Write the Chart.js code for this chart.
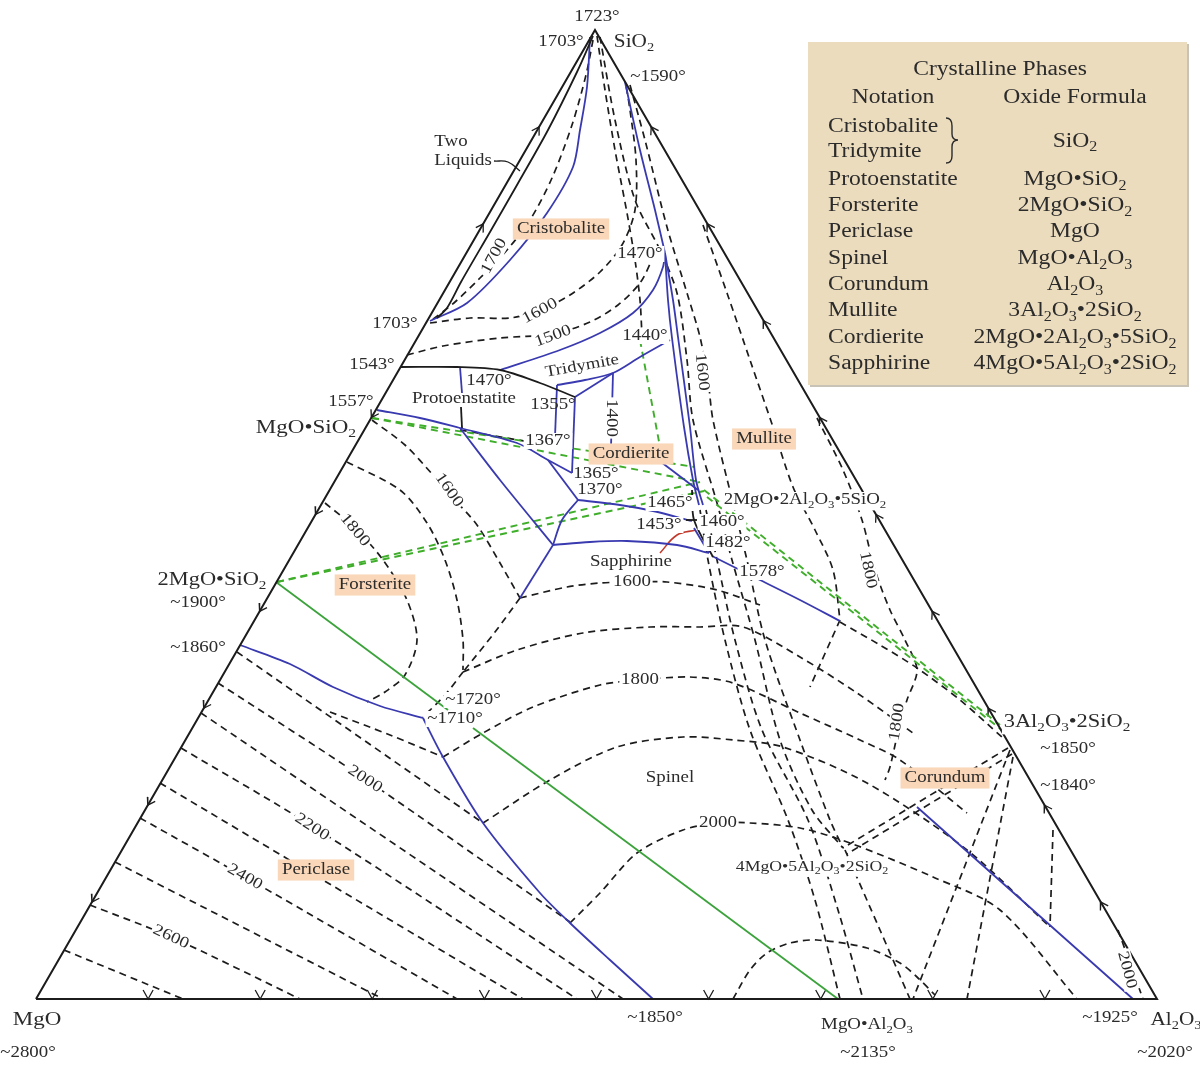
<!DOCTYPE html>
<html>
<head>
<meta charset="utf-8">
<script src="https://cdn.jsdelivr.net/npm/chart.js@4.4.1/dist/chart.umd.min.js"></script>
<style>
  html, body { margin: 0; padding: 0; background: #fff; }
  #wrap { width: 1200px; height: 1065px; position: relative; }
</style>
</head>
<body>
<div id="wrap"><canvas id="diagram"></canvas></div>
<script>
// All positions are picture pixels (x right, y down).
// corners: MgO, SiO2, Al2O3
const corners = [[36, 999], [595, 30], [1157, 999]];
const triangle = [[36, 999], [595, 30], [1157, 999], [36, 999]];

// solid black boundaries
const twoLiquids = [[593,36],[577,72],[548,130],[517,185],[490,232],[461,282],[447,308],[437,318]];
const liquidsLeader = [[494,161],[508,162],[520,171]];
const protoTridBlack = [[401,367],[457,367],[500,370],[540,383],[575,397]];
const protoShortBlack = [[461,407],[462,428]];
const cordBlack = [[692,490],[694,520],[713,557]];
const cordBlack2 = [[686,520],[697,520]];

// blue boundary curves
const cristobaliteBlue = [[590,37],[587,87],[580,130],[573,167],[547,213],[510,260],[467,303],[430,321]];
const mulliteBlueTop = [[625,82],[640,150],[655,210],[665,253]];
const mulliteBlueA = [[665,253],[668,300],[672,338],[684,427],[693,480],[699,505]];
const mulliteBlueB = [[665,253],[673,300],[678,337],[690,427],[696,480],[703,505]];
const tridUpperBlue = [[500,370],[560,350],[600,333],[633,313],[653,290],[663,267],[665,253]];
const tridLowerBlue = [[670,340],[640,357],[613,373],[585,380],[557,385]];
const blue1355 = [[557,385],[555,437]];
const blue1400 = [[613,373],[611,447]];
const blueMid1 = [[575,397],[613,373]];
const blueMid2 = [[575,397],[572,473]];
const protoBlue = [[460,367],[462,393]];
const enstBlue = [[377,410],[420,418],[460,428],[517,443],[548,460],[572,473]];
const enstBlue2 = [[460,428],[500,480],[553,545]];
const blue1365 = [[548,460],[578,500]];
const blue1370 = [[578,500],[620,505],[653,511],[692,521]];
const blue1370b = [[578,500],[562,520],[553,545]];
const sapphBlue = [[553,545],[590,542],[627,541],[677,545],[709,553]];
const forstBlue = [[553,545],[520,598]];
const cordLabelBlue = [[661,462],[698,490]];
const blue1460 = [[694,528],[709,553]];
const spinelMulBlue = [[712,556],[760,580],[800,600],[840,621]];
const periclaseBlueUpper = [[240,645],[290,664],[333,687],[380,706],[423,718]];
const periclaseBlueLower = [[423,718],[443,757],[483,823],[540,893],[570,923],[610,960],[653,999]];
const corundumBlue = [[917,807],[1133,999]];
const redCurve = [[696,530],[677,535],[660,553]];

// green joins (Alkemade lines)
const forstSpinelGreen1 = [[276,582],[448,710]];
const forstSpinelGreen2 = [[473,728],[838,999]];
const forstCordGreenA = [[277,582],[700,482]];
const forstCordGreenB = [[277,582],[704,491]];
const enstCordGreenA = [[372,418],[700,482]];
const enstCordGreenB = [[372,418],[695,467]];
const silicaCordGreen = [[640,340],[660,447]];
const cordMulGreenA = [[704,490],[1000,725]];
const cordMulGreenB = [[707,497],[1003,731]];

// dashed isotherms and joins, silica corner
const iso1700Top = [[593,40],[586,75],[572,125],[552,178],[530,220],[507,250],[480,278],[455,302],[432,320]];
const iso1600Top = [[430,323],[470,318],[510,318],[540,310],[570,295],[600,272],[622,245],[635,210],[636,160],[630,110],[626,85]];
const iso1500 = [[407,355],[443,346],[500,338],[553,334],[590,322],[618,305],[640,283],[652,260]];
const apexLine = [[597,36],[605,90],[615,150],[627,213],[635,260],[640,300],[642,336]];
const apexLine2 = [[600,37],[615,120],[635,200],[660,250],[677,293],[687,360],[693,420],[717,503],[732,560],[755,640],[780,740],[812,810],[843,848]];
const iso1600Mul = [[630,85],[645,140],[667,227],[687,293],[700,337],[708,380],[713,420],[733,503],[747,560],[765,640],[800,740],[830,820],[843,848]];
const iso1700Mul = [[703,225],[727,293],[750,360],[773,427],[793,487],[815,530],[833,570],[840,620]];
const iso1800Mul = [[817,418],[843,470],[862,520],[875,570],[890,610],[905,640],[917,670],[907,700],[900,723],[890,767],[885,780]];
const enst1367 = [[460,430],[530,442]];

// cordierite / sapphirine / mullite bundle
const cordBundleA = [[700,510],[708,560],[725,640],[750,730],[788,820],[815,900],[840,999]];
const cordBundleB = [[706,510],[717,560],[735,640],[762,730],[808,820],[838,910],[863,999]];
const sapphDown = [[845,850],[880,930],[910,999]];
const mulliteFanA = [[1010,750],[913,999]];
const mulliteFanB = [[1013,757],[967,999]];
const mulliteFanC = [[1053,830],[1050,927]];
const sapphMulA = [[1008,748],[843,848]];
const sapphMulB = [[1012,754],[847,854]];
const spinelMulDash = [[840,622],[880,645],[917,668],[960,700],[1003,738]];
const shortDash = [[840,620],[810,687]];
const iso2000Right = [[1118,930],[1143,999]];

// forsterite field
const forst1600 = [[372,420],[405,445],[433,475],[455,500],[477,525],[500,563],[520,598]];
const forst1700 = [[347,462],[400,490],[427,523],[445,560],[457,600],[463,640],[463,670]];
const forst1800 = [[325,503],[355,528],[383,560],[407,600],[417,640],[405,675],[385,692],[367,702]];
const forstLink = [[520,598],[495,632],[463,672]];
const eutecticLink = [[463,672],[445,695],[423,717]];

// spinel field
const spin1600 = [[520,598],[567,587],[600,583],[632,582],[667,582],[717,590],[760,605]];
const spin1700 = [[463,672],[517,650],[583,633],[650,627],[700,627],[743,627],[800,657],[857,693],[913,733]];
const spin1800 = [[443,757],[483,733],[533,707],[600,685],[640,680],[690,677],[733,683],[800,713],[860,740],[900,760],[967,813]];
const spin1900 = [[483,823],[550,780],[617,747],[683,737],[733,740],[783,747],[867,783],[967,850],[1050,927]];
const spin2000 = [[570,923],[600,893],[637,853],[683,830],[718,823],[750,823],[800,828],[850,843],[933,877],[1000,910],[1077,999]];
const spin2100 = [[733,999],[750,970],[767,953],[790,943],[817,940],[867,948],[900,963],[917,977],[935,995]];

// periclase field, 1800 .. 2700
const peri1800 = [[330,712],[390,735],[443,757]];
const peri1900 = [[237,652],[483,823]];
const peri2000 = [[218,683],[365,779],[570,922]];
const peri2100 = [[201,713],[623,999]];
const peri2200 = [[181,748],[312,826],[577,999]];
const peri2300 = [[160,783],[523,999]];
const peri2400 = [[140,818],[245,877],[457,999]];
const peri2500 = [[115,862],[383,999]];
const peri2600 = [[90,905],[171,937],[300,999]];
const peri2700 = [[64,950],[183,999]];

// edge arrows: fraction along side, direction (+1 towards the side's end corner)
const leftArrowPos = [0.1, 0.2, 0.3, 0.4, 0.5, 0.6, 0.8, 0.9];
const leftArrowDir = [-1, -1, -1, -1, -1, -1, 1, 1];
const rightArrowPos = [0.1, 0.2, 0.3, 0.4, 0.5, 0.6, 0.7, 0.8, 0.9];
const bottomArrowPos = [0.1, 0.2, 0.3, 0.4, 0.5, 0.6, 0.7, 0.8, 0.9];

const BLACK = '#1c1c1c', BLUE = '#3a3ab0', GREEN = '#3ca33c', GDASH = '#3fae2a', RED = '#c0392b';
const DASH = [7, 5];

const lineGroups = [
  { color: BLACK, width: 2, dash: [], tension: 0, sets: [triangle] },
  { color: BLACK, width: 1.8, dash: [], tension: 0.3, sets: [twoLiquids, protoTridBlack, protoShortBlack, cordBlack, cordBlack2] },
  { color: BLACK, width: 1.3, dash: [], tension: 0.4, sets: [liquidsLeader] },
  { color: BLUE, width: 1.8, dash: [], tension: 0.3, sets: [cristobaliteBlue, mulliteBlueTop, mulliteBlueA, mulliteBlueB,
      tridUpperBlue, tridLowerBlue, blue1355, blue1400, blueMid1, blueMid2, protoBlue, enstBlue, enstBlue2, blue1365,
      blue1370, blue1370b, sapphBlue, forstBlue, cordLabelBlue, blue1460, spinelMulBlue, periclaseBlueUpper,
      periclaseBlueLower, corundumBlue] },
  { color: RED, width: 1.6, dash: [], tension: 0.4, sets: [redCurve] },
  { color: GREEN, width: 1.8, dash: [], tension: 0, sets: [forstSpinelGreen1, forstSpinelGreen2] },
  { color: GDASH, width: 1.9, dash: DASH, tension: 0, sets: [forstCordGreenA, forstCordGreenB, enstCordGreenA, enstCordGreenB,
      silicaCordGreen, cordMulGreenA, cordMulGreenB] },
  { color: BLACK, width: 1.7, dash: DASH, tension: 0.3, sets: [iso1700Top, iso1600Top, iso1500, apexLine, apexLine2, iso1600Mul,
      iso1700Mul, iso1800Mul, enst1367, cordBundleA, cordBundleB, sapphDown, mulliteFanA, mulliteFanB, mulliteFanC,
      sapphMulA, sapphMulB, spinelMulDash, shortDash, iso2000Right, forst1600, forst1700, forst1800, forstLink, eutecticLink,
      spin1600, spin1700, spin1800, spin1900, spin2000, spin2100,
      peri1800, peri1900, peri2000, peri2100, peri2200, peri2300, peri2400, peri2500, peri2600, peri2700] }
];

// little arrowheads on the sides, built from the corners
function chevrons() {
  const out = [];
  const add = (a, b, f, dir) => {
    const px = a[0] + (b[0] - a[0]) * f, py = a[1] + (b[1] - a[1]) * f;
    const len = Math.hypot(b[0] - a[0], b[1] - a[1]);
    const ux = (b[0] - a[0]) / len * dir, uy = (b[1] - a[1]) / len * dir;
    const nx = -uy, ny = ux;
    out.push({ x: px - ux * 7 + nx * 4.5, y: py - uy * 7 + ny * 4.5 }, { x: px, y: py },
             { x: px - ux * 7 - nx * 4.5, y: py - uy * 7 - ny * 4.5 }, { x: NaN, y: NaN });
  };
  leftArrowPos.forEach((f, i) => add(corners[0], corners[1], f, leftArrowDir[i]));
  rightArrowPos.forEach(f => add(corners[1], corners[2], f, -1));
  bottomArrowPos.forEach(f => {
    const x = corners[0][0] + (corners[2][0] - corners[0][0]) * f, y = corners[0][1];
    out.push({ x: x - 5, y: y - 9 }, { x: x, y: y }, { x: x + 5, y: y - 9 }, { x: NaN, y: NaN });
  });
  return out;
}

const datasets = [];
lineGroups.forEach(g => {
  g.sets.forEach(pts => {
    datasets.push({
      data: pts.map(p => ({ x: p[0], y: p[1] })),
      showLine: true, borderColor: g.color, borderWidth: g.width, borderDash: g.dash,
      tension: g.tension, pointRadius: 0, fill: false, spanGaps: false
    });
  });
});
datasets.push({ data: chevrons(), showLine: true, borderColor: BLACK, borderWidth: 1.3, pointRadius: 0, tension: 0, spanGaps: false });

// texts: [text, x, y, size, rotation, kind]  kind: plain | bg | box | chem | chembg
const notes = [
  ['1723°', 597, 17, 16, 0, 'plain'], ['1703°', 561, 42, 16, 0, 'plain'], ['SiO2', 634, 42, 18, 0, 'chem'],
  ['~1590°', 658, 77, 16, 0, 'plain'], ['Two', 451, 142, 16, 0, 'plain'], ['Liquids', 463, 161, 16, 0, 'plain'],
  ['Cristobalite', 561, 229, 16, 0, 'box'], ['1700', 494, 256, 16, -62, 'bg'], ['1470°', 640, 254, 16, 0, 'bg'],
  ['1600', 540, 311, 16, -28, 'bg'], ['1500', 553, 336, 16, -20, 'bg'], ['1440°', 645, 336, 16, 0, 'bg'],
  ['1703°', 395, 324, 16, 0, 'plain'], ['1543°', 372, 365, 16, 0, 'plain'], ['Tridymite', 582, 366, 16, -10, 'plain'],
  ['1470°', 489, 381, 16, 0, 'plain'], ['Protoenstatite', 464, 399, 16, 0, 'plain'], ['1355°', 553, 405, 16, 0, 'plain'],
  ['1400', 611, 418, 16, 90, 'bg'], ['1600', 702, 372, 16, 84, 'bg'], ['1557°', 351, 402, 16, 0, 'plain'],
  ['MgO•SiO2', 306, 428, 19.5, 0, 'chem'], ['1367°', 548, 441, 16, 0, 'bg'], ['Cordierite', 631, 454, 16, 0, 'box'],
  ['Mullite', 764, 439, 16, 0, 'box'], ['1365°', 596, 474, 16, 0, 'plain'], ['1370°', 600, 490, 16, 0, 'plain'],
  ['1465°', 670, 503, 16, 0, 'bg'], ['2MgO•2Al2O3•5SiO2', 805, 500, 16, 0, 'chembg'], ['1600', 449, 490, 16, 55, 'bg'],
  ['1800', 355, 530, 16, 50, 'bg'], ['1453°', 659, 525, 16, 0, 'bg'], ['1460°', 722, 522, 16, 0, 'bg'],
  ['1482°', 728, 543, 16, 0, 'bg'], ['Sapphirine', 631, 562, 16, 0, 'plain'], ['1578°', 762, 572, 16, 0, 'bg'],
  ['1600', 632, 582, 16, 0, 'bg'], ['1800', 868, 570, 16, 78, 'bg'], ['2MgO•SiO2', 212, 580, 19, 0, 'chem'],
  ['~1900°', 198, 603, 16, 0, 'plain'], ['Forsterite', 375, 585, 16, 0, 'box'], ['~1860°', 198, 648, 16, 0, 'plain'],
  ['~1720°', 473, 700, 16, 0, 'bg'], ['~1710°', 455, 719, 16, 0, 'bg'], ['1800', 640, 680, 16, 0, 'bg'],
  ['1800', 897, 722, 16, -82, 'bg'], ['3Al2O3•2SiO2', 1067, 722, 19, 0, 'chembg'], ['~1850°', 1068, 749, 16, 0, 'plain'],
  ['Spinel', 670, 778, 16, 0, 'plain'], ['Corundum', 945, 778, 16, 0, 'box'], ['~1840°', 1068, 786, 16, 0, 'plain'],
  ['2000', 365, 779, 16, 33, 'bg'], ['2200', 312, 827, 16, 33, 'bg'], ['2000', 718, 823, 16, 0, 'bg'],
  ['4MgO•5Al2O3•2SiO2', 812, 867, 15, 0, 'chembg'], ['Periclase', 316, 870, 16, 0, 'box'], ['2400', 245, 877, 16, 30, 'bg'],
  ['2600', 171, 937, 16, 25, 'bg'], ['2000', 1127, 970, 16, 75, 'bg'], ['MgO', 37, 1020, 19.5, 0, 'chem'],
  ['~1850°', 655, 1018, 16, 0, 'plain'], ['MgO•Al2O3', 867, 1025, 16, 0, 'chem'], ['~1925°', 1110, 1018, 16, 0, 'plain'],
  ['Al2O3', 1176, 1020, 18, 0, 'chem'], ['~2800°', 28, 1053, 16, 0, 'plain'], ['~2135°', 868, 1053, 16, 0, 'plain'],
  ['~2020°', 1165, 1053, 16, 0, 'plain']
];

// legend table
const legendTitle = 'Crystalline Phases';
const legendHeads = ['Notation', 'Oxide Formula'];
const legendNames = ['Cristobalite', 'Tridymite', 'Protoenstatite', 'Forsterite', 'Periclase', 'Spinel', 'Corundum', 'Mullite', 'Cordierite', 'Sapphirine'];
const legendFormulas = ['SiO2', null, 'MgO•SiO2', '2MgO•SiO2', 'MgO', 'MgO•Al2O3', 'Al2O3', '3Al2O3•2SiO2', '2MgO•2Al2O3•5SiO2', '4MgO•5Al2O3•2SiO2'];
const legendRowY = [127, 152, 180, 206, 232, 259, 285, 311, 338, 364];

const FONT = '"Liberation Serif", "DejaVu Serif", serif';
const INK = '#2b2b2b';
const STRETCH = 1.18;   // the reference face is wider than Times

function runs(str, chem) {
  if (!chem) return [{ t: str, sub: false }];
  const out = [];
  for (let i = 0; i < str.length; i++) {
    const c = str[i];
    const sub = /[0-9]/.test(c) && i > 0 && /[A-Za-z]/.test(str[i - 1]);
    if (out.length && out[out.length - 1].sub === sub) out[out.length - 1].t += c;
    else out.push({ t: c, sub: sub });
  }
  return out;
}

function drawText(ctx, str, x, y, size, rot, kind, align) {
  const chem = kind === 'chem' || kind === 'chembg' || kind === 'legchem';
  const parts = runs(str, chem);
  let w = 0;
  parts.forEach(p => {
    ctx.font = (p.sub ? size * 0.68 : size) + 'px ' + FONT;
    p.w = ctx.measureText(p.t).width;
    w += p.w;
  });
  ctx.save();
  ctx.translate(x, y);
  ctx.rotate(rot * Math.PI / 180);
  ctx.scale(STRETCH, 1);
  let x0 = align === 'left' ? 0 : align === 'right' ? -w : -w / 2;
  if (kind === 'bg' || kind === 'chembg') {
    ctx.fillStyle = '#fff';
    ctx.fillRect(x0 - 1.5, -size * 0.5, w + 3, size * (chem ? 1.15 : 1));
  }
  if (kind === 'box') {
    ctx.fillStyle = '#f9d7b8';
    ctx.fillRect(x0 - 3.5, -size * 0.66, w + 7, size * 1.32);
  }
  ctx.fillStyle = INK;
  ctx.textBaseline = 'middle';
  ctx.textAlign = 'left';
  parts.forEach(p => {
    ctx.font = (p.sub ? size * 0.68 : size) + 'px ' + FONT;
    ctx.fillText(p.t, x0, p.sub ? size * 0.3 : 0);
    x0 += p.w;
  });
  ctx.restore();
}

const textPlugin = {
  id: 'diagramText',
  afterDatasetsDraw(chart) {
    const ctx = chart.ctx;
    const sx = chart.scales.x, sy = chart.scales.y;
    const X = v => sx.getPixelForValue(v), Y = v => sy.getPixelForValue(v);
    notes.forEach(n => drawText(ctx, n[0], X(n[1]), Y(n[2]), n[3], n[4], n[5], 'center'));

    // legend box
    ctx.save();
    ctx.fillStyle = '#c9c2b6';
    ctx.fillRect(X(810), Y(44), X(1189) - X(810), Y(387) - Y(44));
    ctx.fillStyle = '#ecdcbe';
    ctx.fillRect(X(808), Y(42), X(1187) - X(808), Y(385) - Y(42));
    ctx.restore();
    drawText(ctx, legendTitle, X(1000), Y(70), 20, 0, 'plain', 'center');
    drawText(ctx, legendHeads[0], X(893), Y(98), 20, 0, 'plain', 'center');
    drawText(ctx, legendHeads[1], X(1075), Y(98), 20, 0, 'plain', 'center');
    legendNames.forEach((name, i) => {
      drawText(ctx, name, X(828), Y(legendRowY[i]), 20, 0, 'plain', 'left');
      if (legendFormulas[i]) {
        const fy = i === 0 ? (legendRowY[0] + legendRowY[1]) / 2 + 2 : legendRowY[i];
        drawText(ctx, legendFormulas[i], X(1075), Y(fy), 20, 0, 'legchem', 'center');
      }
    });
    // brace joining cristobalite and tridymite
    ctx.save();
    ctx.strokeStyle = INK;
    ctx.lineWidth = 1.4;
    ctx.beginPath();
    ctx.moveTo(X(946), Y(118));
    ctx.quadraticCurveTo(X(952), Y(118), X(952), Y(126));
    ctx.lineTo(X(952), Y(134));
    ctx.quadraticCurveTo(X(952), Y(140), X(958), Y(140));
    ctx.quadraticCurveTo(X(952), Y(140), X(952), Y(147));
    ctx.lineTo(X(952), Y(156));
    ctx.quadraticCurveTo(X(952), Y(163), X(946), Y(163));
    ctx.stroke();
    ctx.restore();
  }
};

new Chart(document.getElementById('diagram'), {
  type: 'scatter',
  data: { datasets: datasets },
  options: {
    responsive: true,
    maintainAspectRatio: false,
    animation: false,
    events: [],
    layout: { padding: 0 },
    scales: {
      x: { type: 'linear', min: 0, max: 1200, display: false },
      y: { type: 'linear', min: 0, max: 1065, reverse: true, display: false }
    },
    plugins: { legend: { display: false }, tooltip: { enabled: false } }
  },
  plugins: [textPlugin]
});
</script>
</body>
</html>
